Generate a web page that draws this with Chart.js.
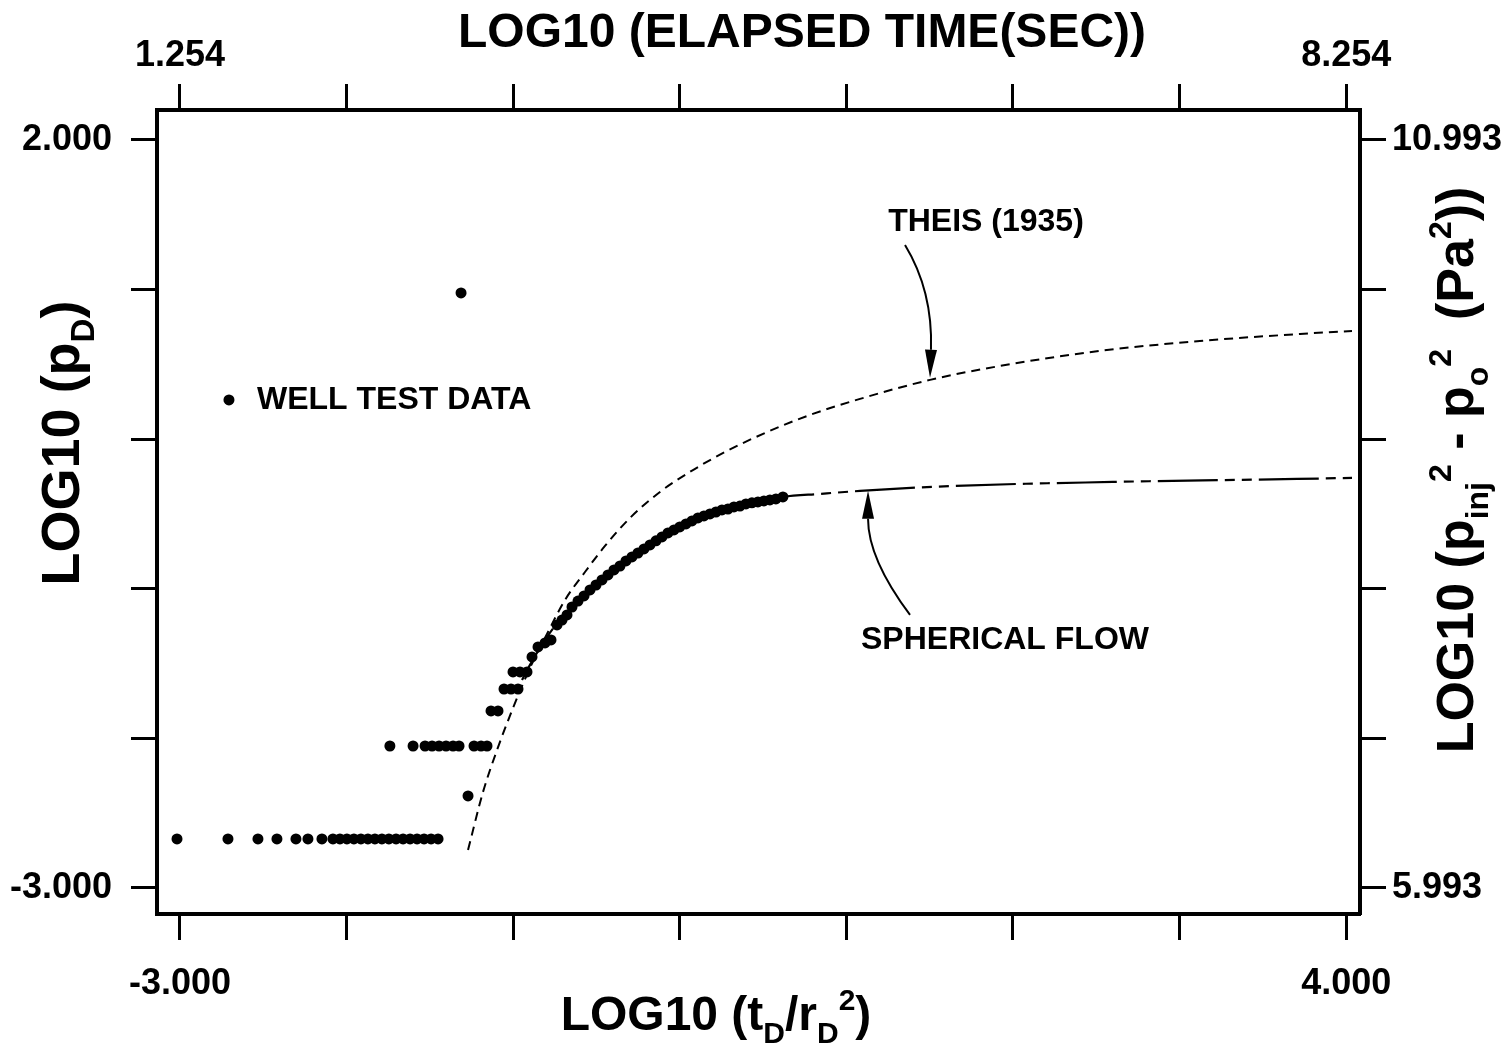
<!DOCTYPE html>
<html lang="en">
<head>
<meta charset="UTF-8">
<title>Well test vs Theis / spherical flow</title>
<script src="https://cdn.jsdelivr.net/npm/chart.js"></script>
<style>
  html, body { margin: 0; padding: 0; background: #fff; }
  .wrap { width: 1512px; height: 1043px; position: relative; }
</style>
</head>
<body>
<div class="wrap"><canvas id="chart"></canvas></div>
<script>
// ---- data ----
// well test data, LOG10(tD/rD^2) vs LOG10(pD)
const wellX = [-3.018, -2.712, -2.532, -2.418, -2.304, -2.232, -2.148, -2.082, -2.040, -1.998, -1.956, -1.914,
  -1.872, -1.830, -1.788, -1.746, -1.703, -1.661, -1.619, -1.577, -1.535, -1.493, -1.451,
  -1.740, -1.601, -1.529, -1.487, -1.445, -1.403, -1.361, -1.325, -1.235, -1.193, -1.157,
  -1.271, -1.313,
  -1.133, -1.091, -1.055, -1.013, -0.971, -1.001, -0.959, -0.917,
  -0.887, -0.851, -0.809, -0.773, -0.737, -0.707, -0.677,
  -0.647, -0.611, -0.575, -0.539, -0.503, -0.467, -0.431, -0.395, -0.359, -0.323, -0.287, -0.251,
  -0.215, -0.179, -0.143, -0.107, -0.071, -0.035, 0.000, 0.037, 0.073, 0.109, 0.145, 0.181,
  0.217, 0.253, 0.289, 0.325, 0.361, 0.397, 0.433, 0.469, 0.505, 0.541, 0.577, 0.619];
const wellY = [-2.672, -2.672, -2.672, -2.672, -2.672, -2.672, -2.672, -2.672, -2.672, -2.672, -2.672, -2.672,
  -2.672, -2.672, -2.672, -2.672, -2.672, -2.672, -2.672, -2.672, -2.672, -2.672, -2.672,
  -2.051, -2.051, -2.051, -2.051, -2.051, -2.051, -2.051, -2.051, -2.051, -2.051, -2.051,
  -2.385, 0.977,
  -1.817, -1.817, -1.670, -1.670, -1.670, -1.556, -1.556, -1.556,
  -1.456, -1.389, -1.362, -1.342, -1.242, -1.209, -1.175,
  -1.122, -1.082, -1.048, -1.008, -0.975, -0.941, -0.908, -0.874, -0.848, -0.814, -0.787, -0.761,
  -0.734, -0.707, -0.680, -0.654, -0.627, -0.607, -0.587, -0.567, -0.547, -0.527, -0.513, -0.500,
  -0.487, -0.473, -0.467, -0.453, -0.447, -0.433, -0.426, -0.420, -0.413, -0.406, -0.400, -0.386];

// Theis (1935) type curve
const theisX = [-1.271, -1.181, -1.097, -1.001, -0.899, -0.797, -0.689, -0.569, -0.449, -0.299, -0.119,
  0.061, 0.271, 0.511, 0.782, 1.082, 1.502, 1.922, 2.522, 3.122, 3.723, 4.035];
const theisY = [-2.746, -2.358, -2.078, -1.797, -1.529, -1.302, -1.075, -0.888, -0.714, -0.527, -0.353,
  -0.219, -0.086, 0.041, 0.162, 0.269, 0.396, 0.489, 0.590, 0.656, 0.703, 0.723];

// spherical flow type curve
const sphX = [-0.947, -0.899, -0.809, -0.719, -0.581, -0.437, -0.257, -0.077, 0.121, 0.319, 0.619,
  0.841, 1.082, 1.640, 2.600, 3.705, 4.035];
const sphY = [-1.610, -1.509, -1.342, -1.209, -1.075, -0.921, -0.761, -0.620, -0.520, -0.460, -0.386,
  -0.366, -0.346, -0.313, -0.286, -0.266, -0.259];

// axes
const xMin = -3.138, xMax = 4.083;
const yMin = -3.174, yMax = 2.20;
const timeOffset = 4.254;   // top axis = bottom axis + offset
const pressOffset = 8.993;  // right axis = left axis + offset
const bottomTicks = [-3, -2, -1, 0, 1, 2, 3, 4];
const topTicks = [1.254, 2.254, 3.254, 4.254, 5.254, 6.254, 7.254, 8.254];
const leftTicks = [2, 1, 0, -1, -2, -3];
const rightTicks = [10.993, 9.993, 8.993, 7.993, 6.993, 5.993];

// labels inside the plot (data coordinates)
const notes = [
  { text: 'THEIS (1935)', x: 1.838, y: 1.452 },
  { text: 'SPHERICAL FLOW', x: 1.952, y: -1.342 },
  { text: 'WELL TEST DATA', x: -2.538, y: 0.262, align: 'left', dot: -2.706 }
];
const arrows = [
  { from: [1.352, 1.298], ctrl: [1.52, 0.99], to: [1.502, 0.410] },
  { from: [1.382, -1.175], ctrl: [1.13, -0.80], to: [1.130, -0.345] }
];

const FONT = "'Liberation Sans', Arial, Helvetica, sans-serif";

function endLabels(ticksArr) {
  return function (value) {
    const first = ticksArr[0], last = ticksArr[ticksArr.length - 1];
    if (Math.abs(value - first) < 1e-6 || Math.abs(value - last) < 1e-6) return value.toFixed(3);
    return '';
  };
}

function axis(position, min, max, ticksArr, size, pad) {
  return {
    type: 'linear',
    position: position,
    min: min,
    max: max,
    afterBuildTicks: s => { s.ticks = ticksArr.map(v => ({ value: v })); },
    afterFit: s => {
      if (position === 'left' || position === 'right') s.width = size; else s.height = size;
    },
    grid: {
      drawOnChartArea: false,
      drawTicks: true,
      tickLength: 26,
      tickWidth: 3,
      tickColor: '#000',
      color: '#000'
    },
    border: { display: true, color: '#000', width: 4 },
    ticks: {
      autoSkip: false,
      maxRotation: 0,
      padding: pad,
      color: '#000',
      font: { family: FONT, size: 36, weight: 'bold' },
      callback: endLabels(ticksArr)
    }
  };
}

// draws text made of normal / sub / sup pieces, centred on (cx, baseline cy)
function drawRich(ctx, parts, cx, cy, size, angle) {
  ctx.save();
  ctx.translate(cx, cy);
  ctx.rotate(angle);
  ctx.textBaseline = 'alphabetic';
  ctx.textAlign = 'left';
  const fontFor = p => 'bold ' + (p.k ? Math.round(size * 0.62) : size) + 'px ' + FONT;
  let w = 0;
  parts.forEach(p => { ctx.font = fontFor(p); w += ctx.measureText(p.t).width; });
  let x = -w / 2;
  parts.forEach(p => {
    ctx.font = fontFor(p);
    const dy = p.k === 'sub' ? size * 0.28 : p.k === 'sup' ? -size * 0.42 : 0;
    ctx.fillText(p.t, x, dy);
    x += ctx.measureText(p.t).width;
  });
  ctx.restore();
}

const decorations = {
  id: 'decorations',
  afterDraw(chart) {
    const ctx = chart.ctx;
    const xs = chart.scales.x, ys = chart.scales.y;
    ctx.save();
    ctx.fillStyle = '#000';
    ctx.strokeStyle = '#000';

    // axis titles
    drawRich(ctx, [{ t: 'LOG10 (ELAPSED TIME(SEC))' }], 802, 47, 48, 0);
    drawRich(ctx, [{ t: 'LOG10 (t' }, { t: 'D', k: 'sub' }, { t: '/r' }, { t: 'D', k: 'sub' }, { t: '2', k: 'sup' }, { t: ')' }],
      716, 1030, 48, 0);
    drawRich(ctx, [{ t: 'LOG10 (p' }, { t: 'D', k: 'sub' }, { t: ')' }], 79, 443, 54, -Math.PI / 2);
    drawRich(ctx, [{ t: 'LOG10 (p' }, { t: 'inj', k: 'sub' }, { t: '2', k: 'sup' }, { t: ' - p' }, { t: 'o', k: 'sub' },
      { t: '2', k: 'sup' }, { t: '  (Pa' }, { t: '2', k: 'sup' }, { t: '))' }], 1473, 470, 52, -Math.PI / 2);

    // notes
    ctx.font = 'bold 32px ' + FONT;
    ctx.textBaseline = 'middle';
    notes.forEach(n => {
      const px = xs.getPixelForValue(n.x), py = ys.getPixelForValue(n.y);
      ctx.textAlign = n.align || 'center';
      ctx.fillText(n.text, px, py);
      if (n.dot !== undefined) {
        ctx.beginPath();
        ctx.arc(xs.getPixelForValue(n.dot), py, 5.5, 0, Math.PI * 2);
        ctx.fill();
      }
    });

    // arrows
    ctx.lineWidth = 2;
    arrows.forEach(a => {
      const p0 = [xs.getPixelForValue(a.from[0]), ys.getPixelForValue(a.from[1])];
      const c = [xs.getPixelForValue(a.ctrl[0]), ys.getPixelForValue(a.ctrl[1])];
      const p1 = [xs.getPixelForValue(a.to[0]), ys.getPixelForValue(a.to[1])];
      const ang = Math.atan2(p1[1] - c[1], p1[0] - c[0]);
      const len = 28, hw = 6;
      const bx = p1[0] - len * Math.cos(ang), by = p1[1] - len * Math.sin(ang);
      ctx.beginPath();
      ctx.moveTo(p0[0], p0[1]);
      ctx.quadraticCurveTo(c[0], c[1], bx, by);
      ctx.stroke();
      ctx.beginPath();
      ctx.moveTo(p1[0], p1[1]);
      ctx.lineTo(bx + hw * Math.sin(ang), by - hw * Math.cos(ang));
      ctx.lineTo(bx - hw * Math.sin(ang), by + hw * Math.cos(ang));
      ctx.closePath();
      ctx.fill();
    });
    ctx.restore();
  }
};

const toPts = (xs, ys) => xs.map((v, i) => ({ x: v, y: ys[i] }));

new Chart(document.getElementById('chart'), {
  type: 'scatter',
  data: {
    datasets: [
      {
        label: 'Theis (1935)',
        data: toPts(theisX, theisY),
        showLine: true,
        borderColor: '#000',
        borderWidth: 2,
        borderDash: [9, 6],
        pointRadius: 0,
        cubicInterpolationMode: 'monotone'
      },
      {
        label: 'Spherical flow',
        data: toPts(sphX, sphY),
        showLine: true,
        borderColor: '#000',
        borderWidth: 2.2,
        borderDash: [60, 7, 10, 7, 10, 7],
        pointRadius: 0,
        cubicInterpolationMode: 'monotone'
      },
      {
        label: 'Well test data',
        data: toPts(wellX, wellY),
        pointRadius: 5.5,
        pointBackgroundColor: '#000',
        pointBorderWidth: 0
      }
    ]
  },
  options: {
    responsive: true,
    maintainAspectRatio: false,
    animation: false,
    layout: { padding: 0 },
    plugins: { legend: { display: false }, tooltip: { enabled: false } },
    scales: {
      x: axis('bottom', xMin, xMax, bottomTicks, 129, 22),
      x2: axis('top', xMin + timeOffset, xMax + timeOffset, topTicks, 110, 6),
      y: axis('left', yMin, yMax, leftTicks, 157, 19),
      y2: axis('right', yMin + pressOffset, yMax + pressOffset, rightTicks, 152, 6)
    }
  },
  plugins: [decorations]
});
</script>
</body>
</html>
